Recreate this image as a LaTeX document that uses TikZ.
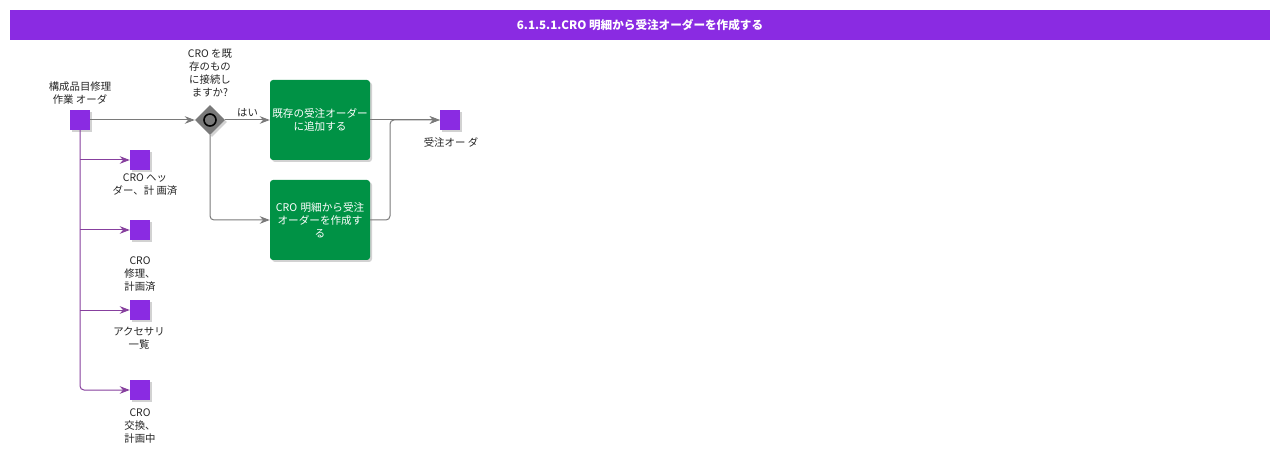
\documentclass[tikz,border=0pt]{standalone}
\usepackage{fontspec}
\setmainfont{Noto Sans CJK JP}
\usetikzlibrary{shadows,arrows.meta,shapes.geometric}
\definecolor{hdr}{HTML}{8A2BE2}
\definecolor{sq}{HTML}{8A2BE2}
\definecolor{grn}{HTML}{009245}
\definecolor{gline}{HTML}{7A7A7A}
\definecolor{pline}{HTML}{87409E}
\tikzset{
  sqbox/.style={draw=none,fill=sq,minimum width=20pt,minimum height=20pt,inner sep=0pt,
    drop shadow={shadow xshift=2pt,shadow yshift=-2pt,opacity=0.35,fill=gray}},
  taskbox/.style={draw=none,fill=grn,rounded corners=3pt,minimum width=100pt,minimum height=80pt,
    text width=100pt,align=center,text=white,font=\fontsize{10.6}{13}\selectfont,inner sep=0pt,
    drop shadow={shadow xshift=2pt,shadow yshift=-2pt,opacity=0.35,fill=gray}},
  lbl/.style={align=center,font=\fontsize{10.4}{13}\selectfont,inner sep=0pt,text=black!85},
  gflow/.style={draw=gline,line width=1pt,rounded corners=4pt,-{Stealth[length=10pt,width=7.5pt]}},
  pflow/.style={draw=pline,line width=1pt,rounded corners=4pt,-{Stealth[length=10pt,width=7.5pt]}},
}
\begin{document}
\begin{tikzpicture}[x=1pt,y=-1pt]
\useasboundingbox (0,0) rectangle (1280,457);
\fill[white] (0,0) rectangle (1280,457);
\node[fill=hdr,minimum width=1260pt,minimum height=30pt,inner sep=0pt,text=white,
  font=\bfseries\fontsize{11.6}{13}\selectfont] (title) at (640,25) {6.1.5.1.CRO 明細から受注オーダーを作成する};

\node[sqbox] (src) at (80,120) {};
\node[lbl] (srcl) at (80,93) {構成品目修理\\作業 オーダ};

\node[diamond,fill=gray!95!black,draw=none,minimum width=30pt,minimum height=30pt,inner sep=0pt,
  drop shadow={shadow xshift=2pt,shadow yshift=-2pt,opacity=0.35,fill=gray}] (gw) at (210,120) {};
\draw[black,line width=1.6pt] (gw.center) circle (6pt);
\node[lbl] (gwl) at (210,73) {CRO を既\\存のもの\\に接続し\\ますか?};

\node[taskbox] (t1) at (320,120) {既存の受注オーダー\\に追加する};
\node[taskbox] (t2) at (320,220) {CRO 明細から受注\\オーダーを作成す\\る};

\node[sqbox] (tgt) at (450,120) {};
\node[lbl] (tgtl) at (451,143) {受注オー ダ};

\node[sqbox] (s1) at (140,160) {};
\node[lbl] (s1l) at (145,185) {CRO ヘッ\\ダー、計 画済};
\node[sqbox] (s2) at (140,230) {};
\node[lbl] (s2l) at (140,274) {CRO\\修理、\\計画済};
\node[sqbox] (s3) at (140,310) {};
\node[lbl] (s3l) at (139,338) {アクセサリ\\一覧};
\node[sqbox] (s4) at (140,390) {};
\node[lbl] (s4l) at (140,426) {CRO\\交換、\\計画中};

\draw[gflow] (src.east) -- (gw.west);
\draw[gflow] (gw.east) -- node[above,lbl,yshift=3pt]{はい} (t1.west);
\draw[gflow] (gw.south) |- (t2.west);
\draw[gflow] (t1.east) -- (tgt.west);
\draw[gflow] (t2.east) -- (390,220) -- (390,120) -- (tgt.west);

\draw[pflow] (src.south) |- (s4.west);
\draw[pflow] (80,160) -- (s1.west);
\draw[pflow] (80,230) -- (s2.west);
\draw[pflow] (80,310) -- (s3.west);
\end{tikzpicture}
\end{document}
